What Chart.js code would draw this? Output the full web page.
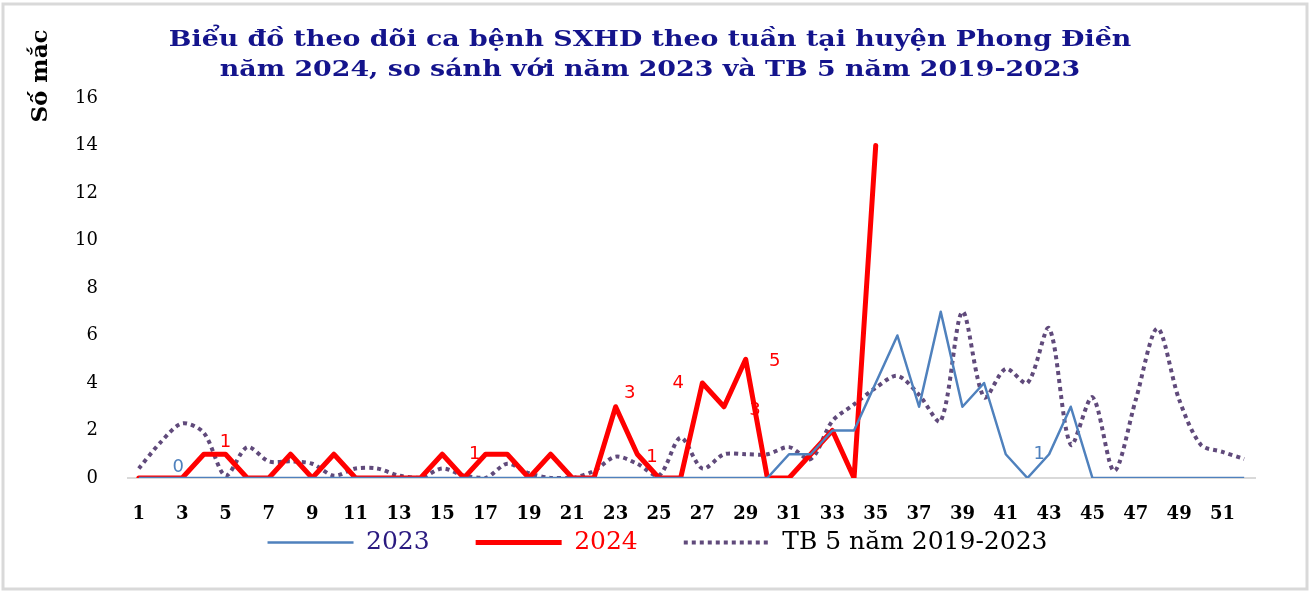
<!DOCTYPE html>
<html>
<head>
<meta charset="utf-8">
<script src="https://cdn.jsdelivr.net/npm/chart.js@4.4.1/dist/chart.umd.min.js"></script>
<style>
  html, body { margin: 0; padding: 0; background: #fff; }
  #wrap { width: 1310px; height: 591px; }
</style>
</head>
<body>
<div id="wrap"><canvas id="sxhdChart" width="1310" height="591"></canvas></div>
<script>
const weeks = ["1","2","3","4","5","6","7","8","9","10","11","12","13","14","15","16","17","18","19","20",
  "21","22","23","24","25","26","27","28","29","30","31","32","33","34","35","36","37","38","39","40",
  "41","42","43","44","45","46","47","48","49","50","51","52"];

const cases2023 = [0,0,0,0,0,0,0,0,0,0, 0,0,0,0,0,0,0,0,0,0, 0,0,0,0,0,0,0,0,0,0,
  1,1,2,2,4,6,3,7,3,4, 1,0,1,3,0,0,0,0,0,0, 0,0];
const cases2024 = [0,0,0,1,1,0,0,1,0,1, 0,0,0,0,1,0,1,1,0,1, 0,0,3,1,0,0,4,3,5,0, 0,1,2,0,14];
const avg5y = [0.4,1.5,2.3,1.9,0.1,1.3,0.7,0.7,0.6,0.1, 0.4,0.4,0.1,0,0.4,0.1,0,0.6,0.2,0,
  0,0.3,0.9,0.6,0.1,1.7,0.4,1.0,1.0,1.0, 1.3,0.8,2.4,3.1,3.8,4.3,3.5,2.4,7.0,3.4,
  4.6,4.0,6.3,1.4,3.4,0.3,3.3,6.3,3.3,1.4, 1.1,0.8];

const yTicks = [0,2,4,6,8,10,12,14,16];

const titleLines = ["Biểu đồ theo dõi ca bệnh SXHD theo tuần tại huyện Phong Điền",
                    "năm 2024, so sánh với năm 2023 và TB 5 năm 2019-2023"];
const seriesNames = ["2023", "2024", "TB 5 năm 2019-2023"];
const yTitle = "Số mắc";

// data labels shown on the picture: [dataset, week index, text]
const pointLabels = [[0, 2, "0"], [1, 4, "1"], [1, 16, "1"], [1, 22, "3"], [1, 24, "1"],
  [1, 26, "4"], [1, 27, "3"], [1, 28, "5"], [0, 42, "1"]];
// nudges so they sit like the original
const labelNudge = [[-4,-11], [0,-12], [-11,0], [14,-13], [-7,-21], [-24,0], [31,4], [29,2], [-10,0]];

const frame = {
  id: "frame",
  beforeDraw(chart) {
    const ctx = chart.ctx;
    ctx.save();
    ctx.strokeStyle = "#d9d9d9";
    ctx.lineWidth = 3;
    ctx.strokeRect(3, 4, chart.width - 6, chart.height - 6);
    ctx.restore();
  }
};

// title is a bit wide in the original, so stretch it sideways
const wideTitle = {
  id: "wideTitle",
  afterDraw(chart) {
    const ctx = chart.ctx;
    ctx.save();
    ctx.font = "bold 22px 'DejaVu Serif'";
    ctx.fillStyle = "#14148c";
    ctx.textAlign = "center";
    ctx.textBaseline = "middle";
    titleLines.forEach((t, i) => {
      ctx.save();
      ctx.translate(650, 40 + i * 30);
      ctx.scale(1.22, 1);
      ctx.fillText(t, 0, 0);
      ctx.restore();
    });
    ctx.restore();
  }
};

const yTitlePlugin = {
  id: "yTitle",
  afterDraw(chart) {
    const ctx = chart.ctx;
    ctx.save();
    ctx.translate(41, 76);
    ctx.rotate(-Math.PI / 2);
    ctx.font = "bold 23px 'DejaVu Serif'";
    ctx.fillStyle = "#000";
    ctx.textAlign = "center";
    ctx.textBaseline = "middle";
    ctx.fillText(yTitle, 0, 0);
    ctx.restore();
  }
};

const valueLabels = {
  id: "valueLabels",
  afterDatasetsDraw(chart) {
    const ctx = chart.ctx;
    ctx.save();
    ctx.font = "18px 'DejaVu Sans'";
    ctx.textAlign = "center";
    ctx.textBaseline = "middle";
    pointLabels.forEach(([ds, i, txt], k) => {
      const pt = chart.getDatasetMeta(ds).data[i];
      ctx.fillStyle = ds === 0 ? "#4f81bd" : "#ff0000";
      ctx.fillText(txt, pt.x + labelNudge[k][0], pt.y + labelNudge[k][1]);
    });
    ctx.restore();
  }
};

new Chart(document.getElementById("sxhdChart"), {
  type: "line",
  data: {
    labels: weeks,
    datasets: [
      { label: seriesNames[0], data: cases2023, borderColor: "#4f81bd", borderWidth: 2.5,
        pointRadius: 0, tension: 0, borderJoinStyle: "round" },
      { label: seriesNames[1], data: cases2024, borderColor: "#ff0000", borderWidth: 5,
        pointRadius: 0, tension: 0, borderJoinStyle: "round", borderCapStyle: "round" },
      { label: seriesNames[2], data: avg5y, borderColor: "#604a7b", borderWidth: 4,
        borderDash: [4, 4], pointRadius: 0, tension: 0.3 }
    ]
  },
  options: {
    responsive: false,
    animation: false,
    layout: { padding: { left: 60, right: 55, top: 98, bottom: 26 } },
    scales: {
      x: {
        offset: true,
        grid: { display: false, drawTicks: false },
        border: { display: true, color: "#d9d9d9", width: 2 },
        ticks: {
          autoSkip: false, maxRotation: 0, padding: 26, color: "#000",
          font: { family: "DejaVu Serif", weight: "bold", size: 18 },
          callback: function (v, i) { return i % 2 === 0 ? this.getLabelForValue(v) : ""; }
        },
        // keep the legend tight under the axis; labels are allowed to hang below the box
        afterFit: (s) => { s.height = 6; s._computeLabelArea = () => null; }
      },
      y: {
        min: 0, max: 16,
        afterBuildTicks: (s) => { s.ticks = yTicks.map(v => ({ value: v })); },
        grid: { display: false, drawTicks: false },
        border: { display: false },
        ticks: { padding: 30, color: "#000", font: { family: "DejaVu Serif", size: 18 } },
        afterFit: (s) => { s.width = 68; }
      }
    },
    plugins: {
      title: { display: false },
      legend: {
        position: "bottom",
        labels: {
          usePointStyle: true, pointStyleWidth: 86, padding: 46,
          font: { family: "DejaVu Serif", size: 25 },
          generateLabels: (chart) => chart.data.datasets.map((d, i) => ({
            text: d.label, datasetIndex: i, pointStyle: "line",
            strokeStyle: d.borderColor, fillStyle: d.borderColor,
            lineWidth: d.borderWidth, lineDash: d.borderDash || [],
            fontColor: ["#2a1a80", "#ff0000", "#000000"][i]
          }))
        }
      },
      tooltip: { enabled: false }
    }
  },
  plugins: [frame, wideTitle, yTitlePlugin, valueLabels]
});
</script>
</body>
</html>
